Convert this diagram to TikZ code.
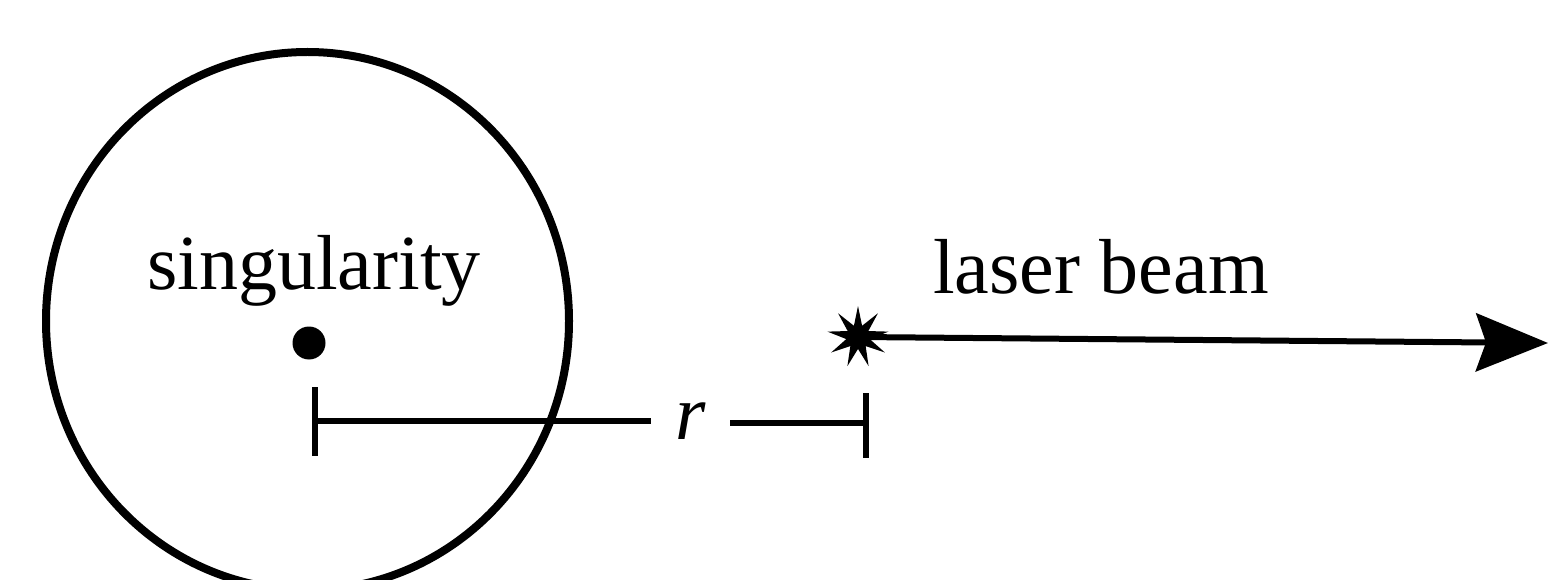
\documentclass[tikz,border=0pt]{standalone}
\usepackage{fontspec}
\setmainfont{Liberation Serif}
\usetikzlibrary{shapes.geometric,arrows.meta}
\begin{document}
\begin{tikzpicture}[x=1pt,y=-1pt,
  thick line/.style={line width=6.5pt},
  label text/.style={font=\fontsize{78}{90}\selectfont, inner sep=0pt, anchor=base west},
  dotmark/.style={circle, fill=black, inner sep=0pt, minimum size=33pt},
  flash/.style={star, star points=9, star point ratio=2.6, fill=black, inner sep=0pt, minimum size=62pt}]
\useasboundingbox (0,0) rectangle (1548,580);
\clip (0,0) rectangle (1548,580);
% horizon
\node[draw, line width=8pt, ellipse, inner sep=0pt, minimum width=523pt, minimum height=538pt] (horizon) at (307.5,321) {};
\node[label text] (sing) at (147,289) {singularity};
\node[dotmark] (dot) at (309,343) {};
% scale bar
\coordinate (lt) at (315,387);
\coordinate (lb) at (315,456);
\coordinate (rt) at (866,393);
\coordinate (rb) at (866,458);
\coordinate (lmid) at (315,421);
\coordinate (rmid) at (866,423);
\node[font=\fontsize{78}{90}\selectfont\itshape, inner sep=0pt] (r) at (691,421) {r};
\coordinate (rl) at (651,421);
\coordinate (rr) at (730,423);
\draw[thick line] (lt) -- (lb);
\draw[thick line] (rt) -- (rb);
\draw[line width=5.5pt] (lmid) -- (rl);
\draw[line width=5.5pt] (rr) -- (rmid);
% laser
\node[flash] (src) at (858,337) {};
\coordinate (tip) at (1548,343);
\draw[line width=6pt, -{Stealth[length=72pt,width=58pt,inset=10pt]}] (src.center) -- (tip);
\node[label text] (laser) at (933,294) {laser beam};
\end{tikzpicture}
\end{document}
